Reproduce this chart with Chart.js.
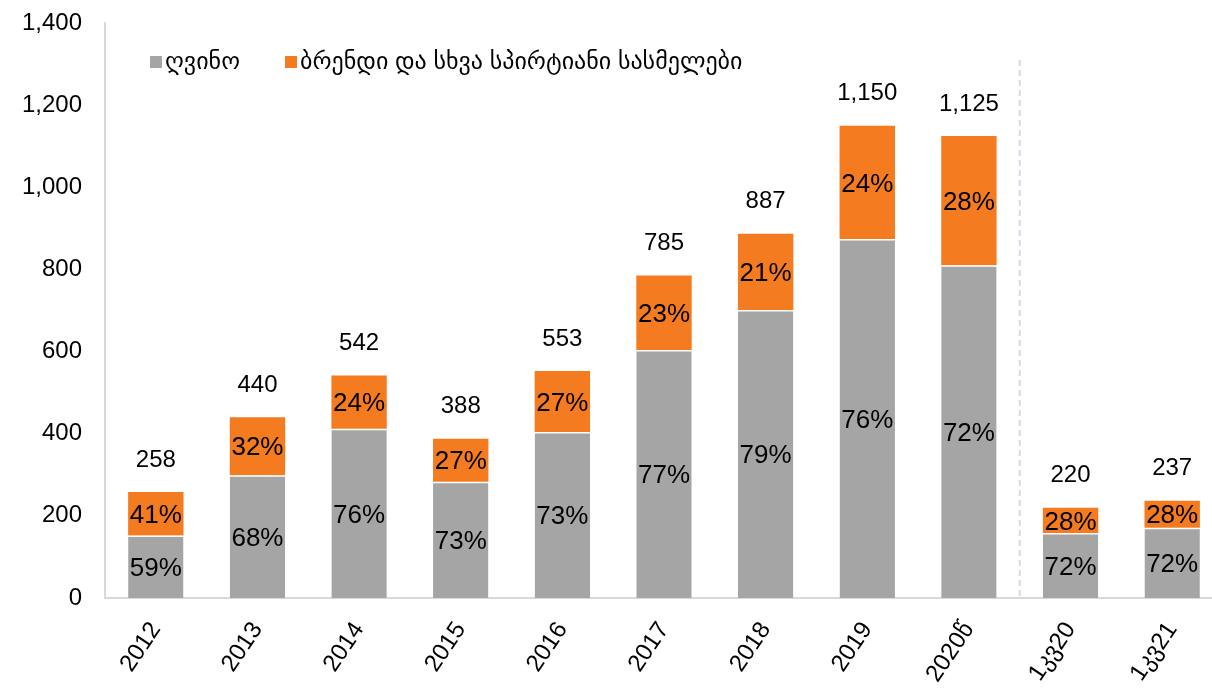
<!DOCTYPE html>
<html>
<head>
<meta charset="utf-8">
<script src="https://cdn.jsdelivr.net/npm/chart.js@4/dist/chart.umd.min.js"></script>
<style>
  html, body { margin: 0; padding: 0; background: #fff; overflow: hidden; }
  #wrap { width: 1226px; height: 691px; }
</style>
</head>
<body>
<div id="wrap"><canvas id="myChart"></canvas></div>
<script>
// Categories and series (million)
const categories = ['2012', '2013', '2014', '2015', '2016', '2017', '2018', '2019', '2020წ', '1კვ20', '1კვ21'];
const wine = [152, 299, 412, 283, 404, 604, 701, 874, 810, 158, 171];
const spirits = [106, 141, 130, 105, 149, 181, 186, 276, 315, 62, 66];
const seriesNames = ['ღვინო', 'ბრენდი და სხვა სპირტიანი სასმელები'];
const yTicks = [0, 200, 400, 600, 800, 1000, 1200, 1400];

const FONT = '"Liberation Sans", Arial, "DejaVu Sans", sans-serif';
const GREY = '#a5a5a5';
const ORANGE = '#f47b20';

const totals = wine.map((w, i) => w + spirits[i]);

// Labels inside the bars, totals above, dashed separator and legend
const labelPlugin = {
    id: 'labels',
    afterDatasetsDraw(chart) {
        const ctx = chart.ctx;
        const area = chart.chartArea;
        const x = chart.scales.x;
        ctx.save();
        ctx.fillStyle = '#000';
        ctx.textAlign = 'center';
        ctx.textBaseline = 'middle';
        ctx.font = '26px ' + FONT;
        chart.data.datasets.forEach((ds, di) => {
            chart.getDatasetMeta(di).data.forEach((el, i) => {
                const p = el.getCenterPoint();
                const pct = Math.round(ds.data[i] / totals[i] * 100);
                ctx.fillText(pct + '%', p.x, p.y + 2);
            });
        });
        ctx.font = '24px ' + FONT;
        chart.getDatasetMeta(1).data.forEach((el, i) => {
            ctx.fillText(totals[i].toLocaleString('en-US'), el.x, el.y - 32);
        });

        // dashed line between annual and quarterly data
        const sx = (x.getPixelForValue(8) + x.getPixelForValue(9)) / 2;
        ctx.strokeStyle = '#d9d9d9';
        ctx.lineWidth = 2;
        ctx.setLineDash([6, 4]);
        ctx.beginPath();
        ctx.moveTo(sx, 60);
        ctx.lineTo(sx, area.bottom);
        ctx.stroke();
        ctx.setLineDash([]);

        // legend
        ctx.font = '24px ' + FONT;
        ctx.textAlign = 'left';
        let lx = 150;
        const ly = 62;
        chart.data.datasets.forEach((ds, di) => {
            ctx.fillStyle = ds.backgroundColor;
            ctx.fillRect(lx, ly - 6, 12, 12);
            ctx.fillStyle = '#000';
            ctx.fillText(ds.label, lx + 15, ly);
            lx += 15 + ctx.measureText(ds.label).width + 45;
        });
        ctx.restore();
    }
};

new Chart(document.getElementById('myChart'), {
    type: 'bar',
    data: {
        labels: categories,
        datasets: [{
            label: seriesNames[0],
            data: wine,
            backgroundColor: GREY,
            borderColor: '#fff',
            borderWidth: { top: 1.5, left: 0, right: 0, bottom: 0 },
            borderSkipped: false,
            barPercentage: 1,
            categoryPercentage: 0.545
        }, {
            label: seriesNames[1],
            data: spirits,
            backgroundColor: ORANGE,
            borderWidth: 0,
            barPercentage: 1,
            categoryPercentage: 0.545
        }]
    },
    options: {
        responsive: true,
        maintainAspectRatio: false,
        animation: false,
        layout: { padding: { top: 23, right: 3, left: 0, bottom: 0 } },
        plugins: {
            legend: { display: false },
            tooltip: { enabled: false }
        },
        scales: {
            x: {
                stacked: true,
                grid: { display: false, drawTicks: false },
                border: { color: '#d9d9d9', width: 2 },
                ticks: {
                    color: '#000',
                    font: { family: FONT, size: 24 },
                    minRotation: 56,
                    maxRotation: 56,
                    padding: 19
                },
                afterFit(s) { s.height = 93; }
            },
            y: {
                stacked: true,
                min: 0,
                max: 1400,
                grid: { display: false, drawTicks: false },
                border: { color: '#d9d9d9', width: 2 },
                afterBuildTicks(s) { s.ticks = yTicks.map(v => ({ value: v })); },
                ticks: {
                    color: '#000',
                    font: { family: FONT, size: 24 },
                    padding: 23,
                    callback: v => v.toLocaleString('en-US')
                },
                afterFit(s) {
                    s.width = 105;
                    s.paddingTop = 0;
                    s.paddingBottom = 0;
                }
            }
        }
    },
    plugins: [labelPlugin]
});
</script>
</body>
</html>
